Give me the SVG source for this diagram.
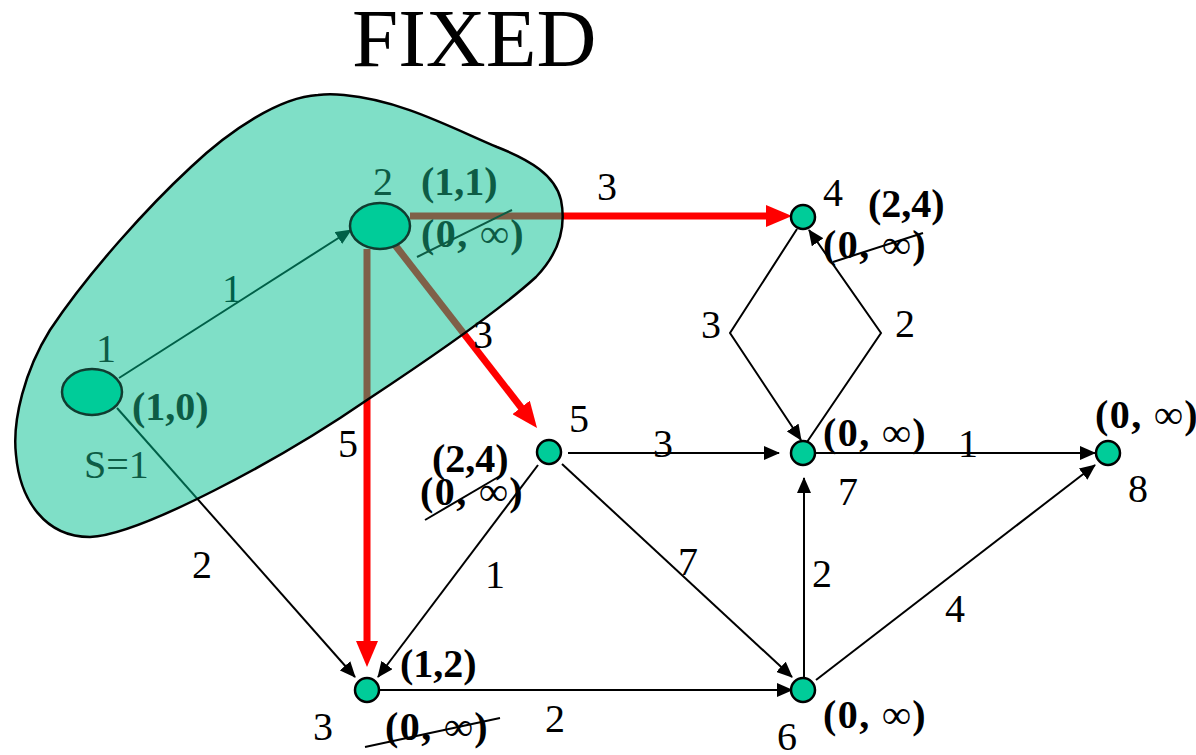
<svg xmlns="http://www.w3.org/2000/svg" width="1196" height="755" viewBox="0 0 1196 755" font-family="Liberation Serif, Times New Roman, serif">
<defs>
<style>
text{font-family:"Liberation Serif","Times New Roman",serif;}
.lbl{font-family:"Liberation Serif","Times New Roman",serif;font-size:40px;font-weight:normal;fill:#000;}
.pair{font-family:"Liberation Serif","Times New Roman",serif;font-size:40px;font-weight:bold;fill:#000;}
.inf{letter-spacing:1.5px;}
.dk{fill:#0d5c45;}
.e{stroke:#000;stroke-width:2;fill:none;marker-end:url(#ab);}
.r{stroke:#ff0000;stroke-width:7;fill:none;marker-end:url(#ar);}
.strike{stroke:#000;stroke-width:2;}
.sn{fill:#00cc99;stroke:#000;stroke-width:2.5;}
.bn{fill:#00cc99;stroke:#103c30;stroke-width:2.5;}
</style>
<marker id="ab" markerUnits="userSpaceOnUse" markerWidth="16" markerHeight="14" refX="15" refY="7" orient="auto">
<path d="M0,0 L16,7 L0,14 Z" fill="#000"/>
</marker>
<marker id="ar" markerUnits="userSpaceOnUse" markerWidth="26" markerHeight="22" refX="2" refY="11" orient="auto">
<path d="M0,0 L26,11 L0,22 Z" fill="#ff0000"/>
</marker>
</defs>
<rect width="1196" height="755" fill="#fff"/>
<text x="352" y="66" font-family="Liberation Serif, serif" font-size="83">FIXED</text>

<g id="connectors">
<line class="e" x1="119" y1="378" x2="351" y2="230"/>
<line class="e" x1="117" y1="408" x2="355" y2="677"/>
<line class="r" x1="410" y1="216" x2="768" y2="216"/>
<line class="r" x1="367" y1="249" x2="367" y2="643"/>
<line class="r" x1="395" y1="245" x2="522.3" y2="409"/>
<polyline class="e" points="797,229 730,333 801,440"/>
<polyline class="e" points="807,442 881,333 809,230"/>
<line class="e" x1="568" y1="453" x2="779" y2="453"/>
<line class="e" x1="816" y1="453" x2="1095" y2="453"/>
<line class="e" x1="562" y1="464" x2="792" y2="677"/>
<line class="e" x1="538" y1="465" x2="378" y2="677"/>
<line class="e" x1="380" y1="690" x2="792" y2="690"/>
<line class="e" x1="804" y1="678" x2="804" y2="478"/>
<line class="e" x1="816" y1="680" x2="1095" y2="465"/>
<text x="222" y="302" class="lbl">1</text>
<text x="192" y="578" class="lbl">2</text>
<text x="597" y="200" class="lbl">3</text>
<text x="473" y="348" class="lbl">3</text>
<text x="338" y="457" class="lbl">5</text>
<text x="701" y="338" class="lbl">3</text>
<text x="895" y="337" class="lbl">2</text>
<text x="653" y="457" class="lbl">3</text>
<text x="958" y="457" class="lbl">1</text>
<text x="678" y="575" class="lbl">7</text>
<text x="485" y="588" class="lbl">1</text>
<text x="812" y="587" class="lbl">2</text>
<text x="945" y="622" class="lbl">4</text>
<text x="545" y="732" class="lbl">2</text>
</g>

<path id="fixed-set" d="M 318,95 C 280,97 230,130 191,167 C 150,205 90,270 50,330 C 25,370 12,420 16,455 C 20,500 45,537 90,537 C 140,535 280,460 367,400 C 420,365 500,310 536,277 C 560,252 566,225 561,200 C 555,175 530,160 497,147 C 450,127 400,100 344,95 C 335,94 325,94 318,95 Z" fill="#00c090" fill-opacity="0.5" stroke="#000" stroke-width="2.5"/>

<g id="node-1">
<ellipse class="bn" cx="92" cy="392" rx="30" ry="23"/>
<text x="96" y="362" class="lbl dk">1</text>
<text x="132" y="420" class="pair dk">(1,0)</text>
<text x="84" y="478" class="lbl dk">S=1</text>
</g>
<g id="node-2">
<ellipse class="bn" cx="380" cy="226" rx="30" ry="23"/>
<text x="373" y="195" class="lbl dk">2</text>
<text x="421" y="195" class="pair dk">(1,1)</text>
<text x="421" y="247" class="pair dk inf">(0, ∞)</text>
<line x1="417" y1="257" x2="512" y2="210" stroke="#0d5c45" stroke-width="2"/>
</g>
<g id="node-3">
<circle class="sn" cx="367" cy="690" r="12"/>
<text x="313" y="740" class="lbl">3</text>
<text x="400" y="677" class="pair">(1,2)</text>
<text x="385" y="740" class="pair inf">(0, ∞)</text>
<line class="strike" x1="365" y1="747" x2="500" y2="718"/>
</g>
<g id="node-4">
<circle class="sn" cx="803" cy="217" r="12"/>
<text x="823" y="206" class="lbl">4</text>
<text x="868" y="217" class="pair">(2,4)</text>
<text x="823" y="258" class="pair inf">(0, ∞)</text>
<line class="strike" x1="833" y1="262" x2="923" y2="233"/>
</g>
<g id="node-5">
<circle class="sn" cx="549" cy="452" r="12"/>
<text x="569" y="432" class="lbl">5</text>
<text x="432" y="472" class="pair">(2,4)</text>
<text x="420" y="505" class="pair inf">(0, ∞)</text>
<line class="strike" x1="425" y1="520" x2="500" y2="476"/>
</g>
<g id="node-6">
<circle class="sn" cx="803" cy="690" r="12"/>
<text x="777" y="750" class="lbl">6</text>
<text x="823" y="728" class="pair inf">(0, ∞)</text>
</g>
<g id="node-7">
<circle class="sn" cx="803" cy="453" r="12"/>
<text x="838" y="505" class="lbl">7</text>
<text x="823" y="446" class="pair inf">(0, ∞)</text>
</g>
<g id="node-8">
<circle class="sn" cx="1108" cy="453" r="12"/>
<text x="1128" y="502" class="lbl">8</text>
<text x="1095" y="428" class="pair inf">(0, ∞)</text>
</g>
</svg>
